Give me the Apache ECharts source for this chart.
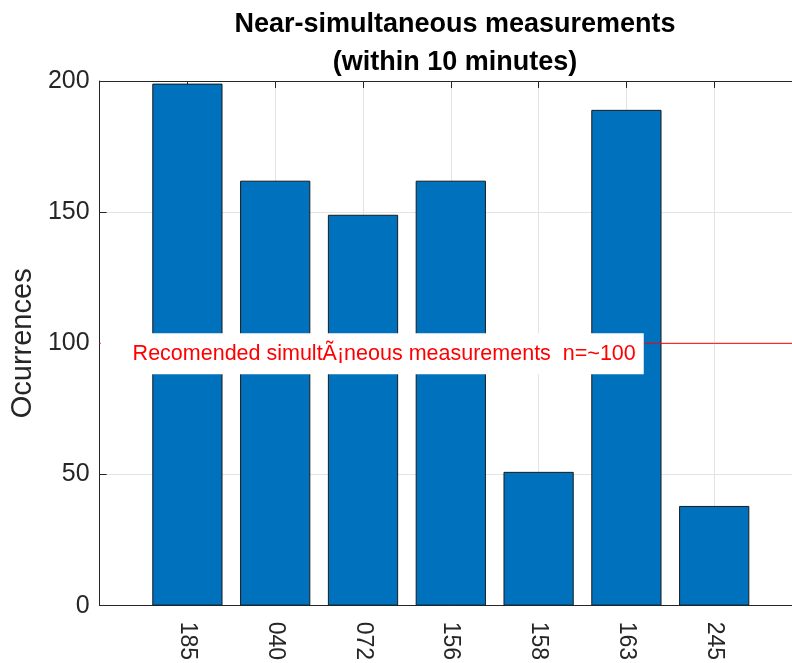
<!DOCTYPE html>
<html>
<head>
<meta charset="utf-8">
<script src="https://cdn.jsdelivr.net/npm/echarts@6/dist/echarts.min.js"></script>
<style>
  html, body { margin: 0; padding: 0; background: #ffffff; overflow: hidden; }
  /* canvas runs a little past the window so the axes box continues off the right edge */
  #chart { width: 812px; height: 663px; }
</style>
</head>
<body>
<div id="chart"></div>
<script>
// Station codes and how often each had a near-simultaneous measurement
const stations = ['185', '040', '072', '156', '158', '163', '245'];
const occurrences = [199, 162, 149, 162, 51, 189, 38];
const yTicks = { min: 0, max: 200, step: 50 };
const recommendedN = 100;
const recommendedText = 'Recomended simultÃ¡neous measurements  n=~100';

const FONT = '"Liberation Sans", Arial, Helvetica, sans-serif';
const AXIS = '#262626';
const GRID = '#e3e3e3';

// Pad the category list with an empty slot on each side so the x range runs 0..8
const axisCats = [''].concat(stations, ['']);
const barData = [null].concat(occurrences, [null]);
// Horizontal reference level across the whole axis range
const refLine = axisCats.map(() => recommendedN);

const chart = echarts.init(document.getElementById('chart'), null, { renderer: 'canvas' });

const option = {
  backgroundColor: '#ffffff',
  animation: false,
  title: {
    text: 'Near-simultaneous measurements\n(within 10 minutes)',
    left: 450,
    top: 1,
    textAlign: 'center',
    textStyle: {
      fontFamily: FONT,
      fontWeight: 'bold',
      fontSize: 27,
      lineHeight: 38,
      color: '#000000'
    }
  },
  grid: { left: 98, top: 81, width: 704, height: 526, containLabel: false },
  xAxis: [
    {
      type: 'category',
      data: axisCats,
      boundaryGap: false,
      position: 'bottom',
      axisLine: { lineStyle: { color: AXIS, width: 1 } },
      axisTick: { inside: true, length: 7, lineStyle: { color: AXIS } },
      axisLabel: {
        rotate: -90,
        margin: 16,
        fontFamily: FONT,
        fontSize: 23,
        color: AXIS,
        interval: 0
      },
      splitLine: { show: true, lineStyle: { color: GRID, width: 1 } }
    },
    {
      type: 'category',
      data: axisCats,
      boundaryGap: false,
      position: 'top',
      axisLine: { lineStyle: { color: AXIS, width: 1 } },
      axisTick: { inside: true, length: 7, lineStyle: { color: AXIS } },
      axisLabel: { show: false },
      splitLine: { show: false }
    }
  ],
  yAxis: {
    type: 'value',
    min: yTicks.min,
    max: yTicks.max,
    interval: yTicks.step,
    name: 'Ocurrences',
    nameLocation: 'middle',
    nameRotate: 90,
    nameGap: 62,
    nameTextStyle: { fontFamily: FONT, fontSize: 29, color: AXIS },
    axisLine: { show: true, lineStyle: { color: AXIS, width: 1 } },
    axisTick: { show: true, inside: true, length: 7, lineStyle: { color: AXIS } },
    axisLabel: { fontFamily: FONT, fontSize: 25, color: AXIS, margin: 10 },
    splitLine: { show: true, lineStyle: { color: GRID, width: 1 } }
  },
  series: [
    {
      type: 'bar',
      data: barData,
      barWidth: '80%',
      z: 2,
      itemStyle: { color: '#0072BD', borderColor: '#1a1a1a', borderWidth: 1 }
    },
    {
      // reference level drawn above the bars
      type: 'line',
      data: refLine,
      z: 10,
      silent: true,
      showSymbol: false,
      symbol: 'none',
      lineStyle: { color: '#ff0000', width: 1, type: 'solid' },
      itemStyle: { color: '#ff0000' }
    }
  ]
};

chart.setOption(option);

// Annotation box for the recommended threshold, anchored to the data scale
const lineY = chart.convertToPixel({ yAxisIndex: 0 }, recommendedN);
const startX = chart.convertToPixel({ xAxisIndex: 0 }, 0);
chart.setOption({
  graphic: [
    {
      type: 'text',
      z: 100,
      x: startX + 1,
      y: lineY - 10,
      style: {
        text: recommendedText,
        fontFamily: FONT,
        fontSize: 21.5,
        fill: '#ff0000',
        backgroundColor: '#ffffff',
        padding: [9, 8, 9, 32],
        lineHeight: 23
      }
    }
  ]
});
</script>
</body>
</html>
